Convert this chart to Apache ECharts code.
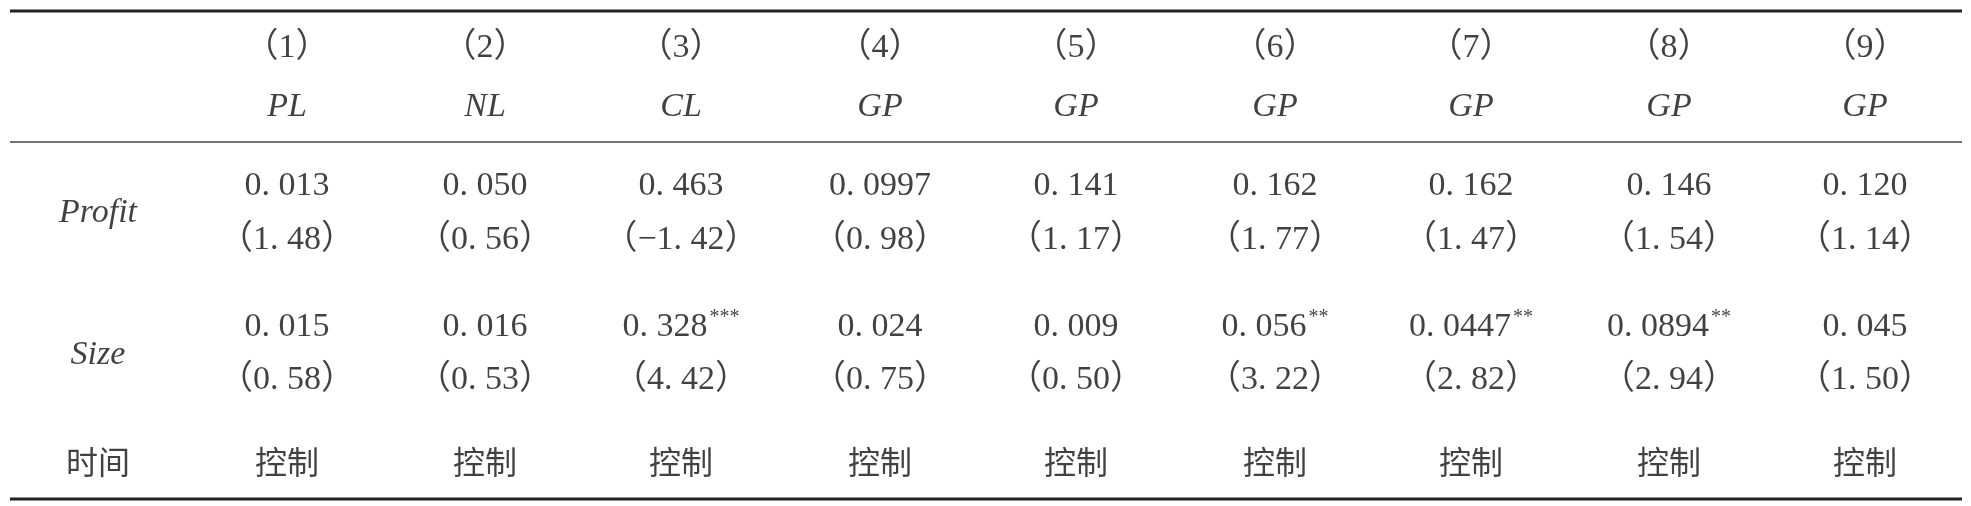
<!DOCTYPE html>
<html><head><meta charset="utf-8">
<script src="https://cdn.jsdelivr.net/npm/echarts@6/dist/echarts.min.js"></script>
<style>html,body{margin:0;padding:0;background:#fff}#c{width:1971px;height:506px}</style>
</head><body><div id="c"></div>
<script>
const colNums = ['（1）','（2）','（3）','（4）','（5）','（6）','（7）','（8）','（9）'];
const depVars = ['PL','NL','CL','GP','GP','GP','GP','GP','GP'];
const profitCoef = ['0. 013','0. 050','0. 463','0. 0997','0. 141','0. 162','0. 162','0. 146','0. 120'];
const profitT = ['（1. 48）','（0. 56）','（−1. 42）','（0. 98）','（1. 17）','（1. 77）','（1. 47）','（1. 54）','（1. 14）'];
const sizeCoef = ['0. 015','0. 016','0. 328','0. 024','0. 009','0. 056','0. 0447','0. 0894','0. 045'];
const sizeStars = ['','','***','','','**','**','**',''];
const sizeT = ['（0. 58）','（0. 53）','（4. 42）','（0. 75）','（0. 50）','（3. 22）','（2. 82）','（2. 94）','（1. 50）'];
const controlRow = ['控制','控制','控制','控制','控制','控制','控制','控制','控制'];
const rowLabels = ['Profit','Size','时间'];
// layout
const colX = [98,287,485,681,880,1076,1275,1471,1669,1865];
const rowY = {num:48, dep:107, pc:186, pt:240, pl:213, sc:327, st:380, sl:355, ctl:462};

const data = [];
function add(x,y,text,style){ data.push({value:[x,y], label:{formatter:text, ...(style||{})}}); }
for (let i=0;i<9;i++){
  const x = colX[i+1];
  add(x,rowY.num,colNums[i]);
  add(x,rowY.dep,depVars[i],{fontStyle:'italic'});
  add(x,rowY.pc,profitCoef[i]);
  add(x,rowY.pt,profitT[i]);
  add(x,rowY.sc,sizeStars[i]?'{v|'+sizeCoef[i]+'}{s|'+sizeStars[i]+'}':sizeCoef[i]);
  add(x,rowY.st,sizeT[i]);
  add(x,rowY.ctl,controlRow[i],{fontFamily:'Noto Sans CJK SC',fontSize:32});
}
add(colX[0],rowY.pl,rowLabels[0],{fontStyle:'italic'});
add(colX[0],rowY.sl,rowLabels[1],{fontStyle:'italic'});
add(colX[0],rowY.ctl,rowLabels[2],{fontFamily:'Noto Sans CJK SC',fontSize:32});

const chart = echarts.init(document.getElementById('c'));
chart.setOption({
  animation:false,
  grid:{left:0,right:0,top:0,bottom:0},
  xAxis:{type:'value',min:0,max:1971,show:false},
  yAxis:{type:'value',min:0,max:506,inverse:true,show:false},
  series:[{
    type:'scatter',symbolSize:0,data:data,silent:true,
    label:{show:true,position:'inside',color:'#111',fontFamily:'"Liberation Serif","Noto Sans CJK SC"',fontSize:34,
      rich:{v:{fontFamily:'"Liberation Serif"',fontSize:34,color:'#111'},s:{fontFamily:'"Liberation Serif"',fontSize:20,color:'#111',verticalAlign:'top',padding:[0,0,18,2]}}}
  }],
  graphic:[
    {type:'line',shape:{x1:10,y1:11,x2:1962,y2:11},style:{stroke:'#222',lineWidth:3}},
    {type:'line',shape:{x1:10,y1:142,x2:1962,y2:142},style:{stroke:'#444',lineWidth:1.5}},
    {type:'line',shape:{x1:10,y1:499,x2:1962,y2:499},style:{stroke:'#222',lineWidth:3}}
  ]
});
</script></body></html>
